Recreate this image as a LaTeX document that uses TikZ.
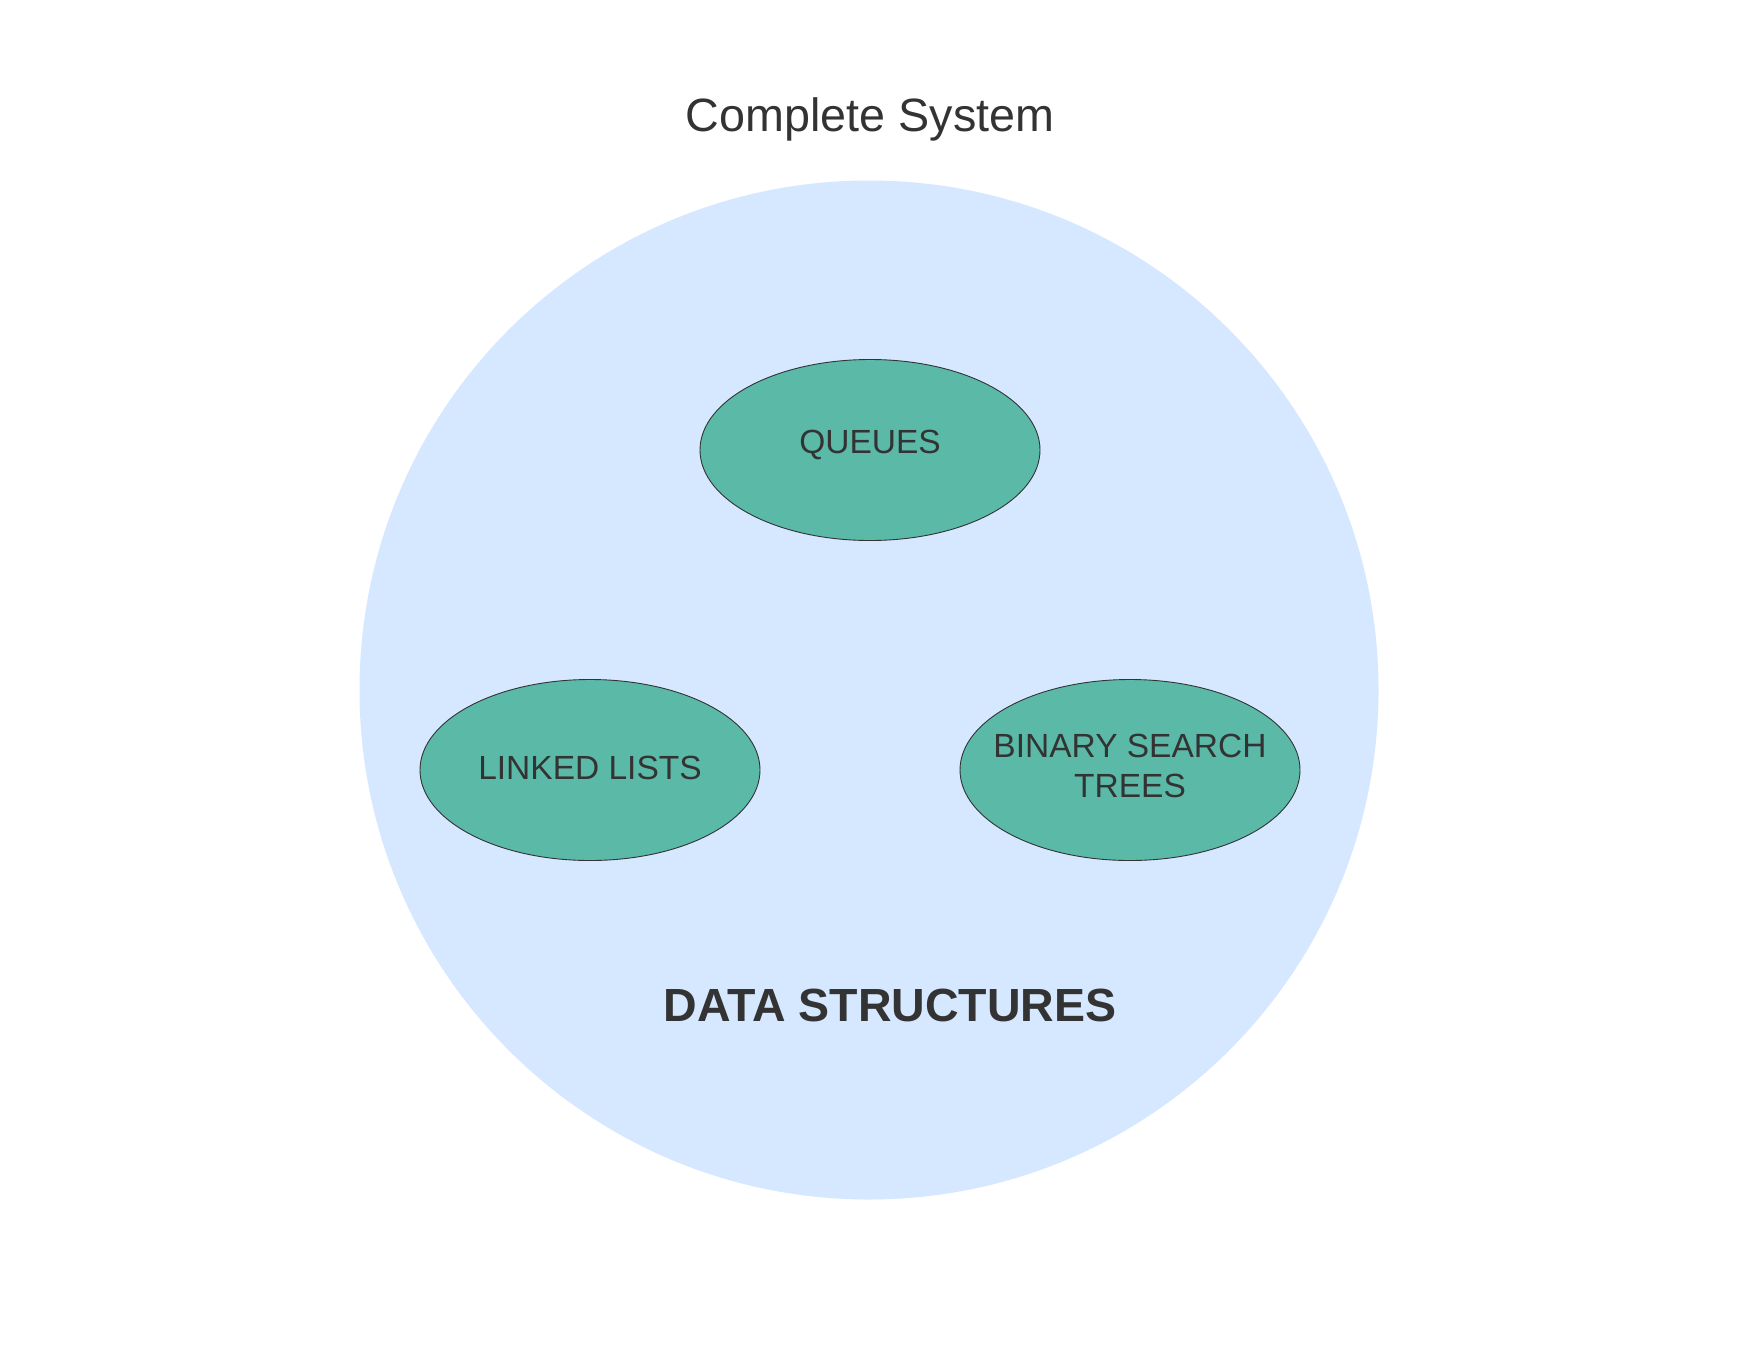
\documentclass[tikz,border=0pt]{standalone}
\usepackage{fontspec}
\setmainfont{Liberation Sans}
\usepackage{xcolor}
\usetikzlibrary{positioning,shapes}
\definecolor{groupblue}{HTML}{D6E8FF}
\definecolor{nodegreen}{HTML}{5BB9A8}
\definecolor{inkgray}{HTML}{333333}
\tikzset{
group/.style={circle, fill=groupblue, draw=none, minimum size=1019pt, inner sep=0pt},
topic/.style={ellipse, fill=nodegreen, draw=inkgray, line width=0.9pt, minimum width=340pt, minimum height=181pt, inner sep=0pt},
topictext/.style={text=inkgray, font=\fontsize{33.5}{40}\selectfont, align=center, inner sep=0pt}
}

\begin{document}
\begin{tikzpicture}[x=1pt,y=1pt]
	\useasboundingbox[fill=white] (0,0) rectangle (1760,-1360);

	\node[group] (ds) at (869,-690) {};
	\node[text=inkgray, font=\fontsize{46.7}{56}\selectfont, anchor=base, inner sep=0pt] (title) at (870,-131) {Complete System};

	\node[topic] (queues) at (870,-450) {};
	\node[topic] (lists) at (590,-770) {};
	\node[topic] (bst) at (1130,-770) {};

	\node[topictext, anchor=base] (queuesText) at ([yshift=-3pt]queues.center) {QUEUES};
	\node[topictext, anchor=base] (listsText) at ([yshift=-9pt]lists.center) {LINKED LISTS};
	\node[topictext] (bstText) at ([yshift=4pt]bst.center) {BINARY SEARCH\\TREES};

	\node[text=inkgray, font=\bfseries\fontsize{46.5}{56}\selectfont, anchor=base, inner sep=0pt] (dsText) at (890,-1021) {DATA STRUCTURES};
\end{tikzpicture}
\end{document}
